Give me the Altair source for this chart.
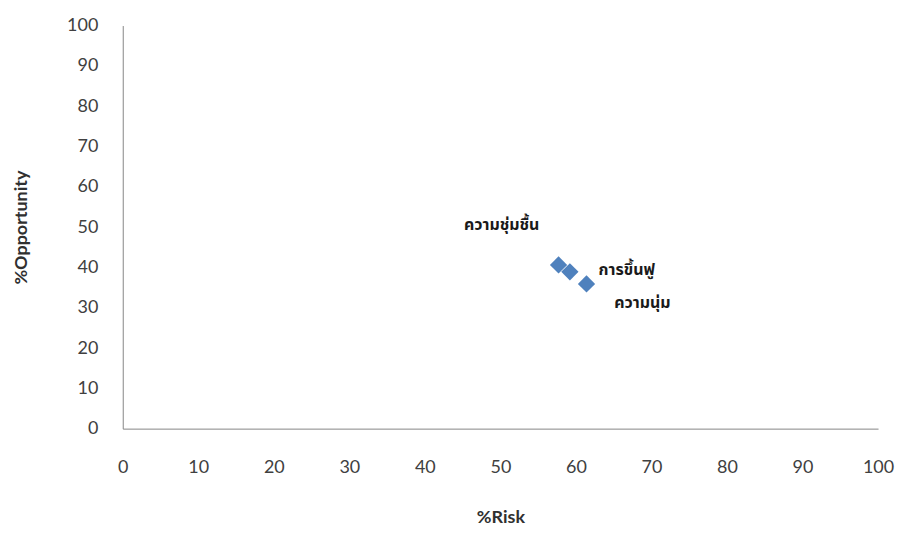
import altair as alt
import pandas as pd

labels = ["ความชุ่มชื้น", "การขึ้นฟู", "ความนุ่ม"]
risk = [57.7, 59.2, 61.4]
opportunity = [40.6, 38.9, 35.9]
ticks = list(range(0, 101, 10))

df = pd.DataFrame({"label": labels, "risk": risk, "opp": opportunity})

FONT = "Lato"
THAI = "Noto Sans Thai, Noto Sans Thai Looped, Loma, Garuda, Tahoma, sans-serif"

x = alt.X("risk:Q", title="%Risk",
          scale=alt.Scale(domain=[0, 100], nice=False, zero=True),
          axis=alt.Axis(values=ticks, grid=False, ticks=False, domainColor="#868686",
                        labelPadding=30, labelFontSize=18, labelColor="#404040",
                        labelFont=FONT, titleFont=FONT, titleFontSize=18,
                        titleColor="#303030", titlePadding=32, labelFlush=False))
y = alt.Y("opp:Q", title="%Opportunity",
          scale=alt.Scale(domain=[0, 100], nice=False),
          axis=alt.Axis(values=ticks, grid=False, ticks=False, domainColor="#868686",
                        labelPadding=25, labelFontSize=18, labelColor="#404040",
                        labelFont=FONT, titleFont=FONT, titleFontSize=18,
                        titleColor="#303030", titlePadding=36))

base = alt.Chart(df)
points = base.mark_point(shape="diamond", filled=True, size=300, color="#4F81BD",
                         opacity=1).encode(x=x, y=y)

offsets = {labels[0]: (-57, -40), labels[1]: (57, -2), labels[2]: (56, 19)}
texts = []
for lab, (dx, dy) in offsets.items():
    texts.append(
        base.transform_filter(alt.datum.label == lab)
        .mark_text(dx=dx, dy=dy, fontSize=16, fontWeight="bold", font=THAI,
                   color="#1a1a1a", align="center", baseline="middle")
        .encode(x="risk:Q", y="opp:Q", text="label:N")
    )

chart = alt.layer(points, *texts).properties(
    width=757, height=404,
    autosize=alt.AutoSizeParams(type="none"),
    padding={"left": 115, "top": 17, "right": 20, "bottom": 100},
).configure(background="white").configure_view(stroke=None, strokeWidth=0)

chart.save("out.html", embed_options={"renderer": "svg", "actions": False})
